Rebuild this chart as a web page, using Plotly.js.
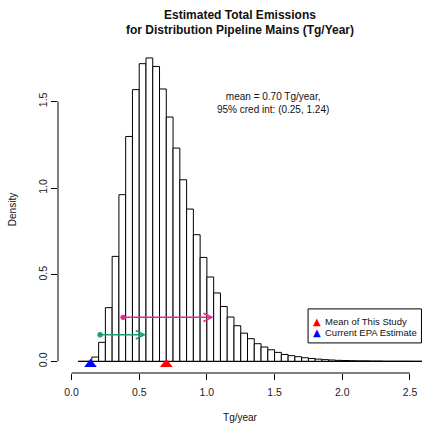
<!DOCTYPE html>
<html>
<head>
<meta charset="utf-8">
<script src="https://cdn.plot.ly/plotly-3.0.1.min.js"></script>
<style>
  html, body { margin: 0; padding: 0; background: #fff; }
  #chart { width: 422px; height: 423px; }
</style>
</head>
<body>
<div id="chart"></div>
<script>
// ---- data ----
const binStart = 0.05;
const binWidth = 0.05;
const density = [0, 0, 0.025, 0.11, 0.31, 0.606, 0.962, 1.298, 1.568, 1.718, 1.751, 1.702,
  1.572, 1.41, 1.231, 1.048, 0.879, 0.731, 0.600, 0.487, 0.395, 0.317, 0.256, 0.206,
  0.163, 0.131, 0.102, 0.083, 0.067, 0.052, 0.040, 0.033, 0.027, 0.021, 0.017, 0.013,
  0.010, 0.008, 0.006, 0.005, 0.004, 0.003, 0.003, 0.002, 0.002, 0.001, 0.001, 0.001,
  0.001, 0.0005, 0.0005, 0.0003];

const markerNames = ['Mean of This Study', 'Current EPA Estimate'];
const markerX = [0.70, 0.14];
const markerY = [-0.016, -0.016];

const arrowStartX = [0.37, 0.20];
const arrowEndX = [1.05, 0.55];
const arrowY = [0.254, 0.154];

const xTicks = [0, 0.5, 1.0, 1.5, 2.0, 2.5];
const yTicks = [0, 0.5, 1.0, 1.5];

const statText = 'mean = 0.70 Tg/year,<br>95% cred int: (0.25, 1.24)';
const statPos = [1.49, 1.49];

// ---- styles ----
const FONT = 'Liberation Sans, Arial, Helvetica, sans-serif';
const markerColors = ['#FF0000', '#0000FF'];
const arrowColors = ['#E7298A', '#1B9E77'];

const binCenters = density.map((_, i) => binStart + binWidth * (i + 0.5));
const binLeft = binStart;
const binRight = binStart + binWidth * density.length;

const traces = [
  {
    type: 'scatter', mode: 'lines',
    x: [binLeft, binRight], y: [0, 0],
    line: { color: '#000', width: 1 },
    hoverinfo: 'skip', showlegend: false
  },
  {
    type: 'bar', x: binCenters, y: density, width: binWidth,
    marker: { color: '#fff', line: { color: '#000', width: 1 } },
    showlegend: false, hoverinfo: 'x+y'
  }
];
markerNames.forEach((nm, i) => {
  traces.push({
    type: 'scatter', mode: 'markers', name: nm,
    x: [markerX[i]], y: [markerY[i]],
    marker: { symbol: 'triangle-up', size: 11, color: markerColors[i] },
    cliponaxis: false, showlegend: false
  });
});

const annotations = [];
arrowStartX.forEach((x0, i) => {
  annotations.push({
    x: arrowEndX[i], y: arrowY[i], ax: x0, ay: arrowY[i],
    xref: 'x', yref: 'y', axref: 'x', ayref: 'y',
    text: '', showarrow: true,
    arrowside: 'end+start', arrowhead: 5, startarrowhead: 6,
    arrowsize: 1.1, startarrowsize: 0.9, arrowwidth: 1.5,
    arrowcolor: arrowColors[i], standoff: 0, startstandoff: 0
  });
});
annotations.push({
  x: statPos[0], y: statPos[1], xref: 'x', yref: 'y',
  text: statText, showarrow: false, align: 'center',
  xanchor: 'center', yanchor: 'middle',
  font: { family: FONT, size: 10, color: '#111' }
});

// legend box (paper coordinates)
const legBox = { x0: 0.687, x1: 0.9985, y0: 0.092, y1: 0.196 };
const legSymX = 0.7115, legTextX = 0.727;
const legRowY = [0.158, 0.124];
markerNames.forEach((nm, i) => {
  annotations.push({
    x: legSymX, y: legRowY[i], xref: 'paper', yref: 'paper',
    text: '\u25B2', showarrow: false, xanchor: 'center', yanchor: 'middle',
    font: { family: 'DejaVu Sans, sans-serif', size: 10, color: markerColors[i] }
  });
  annotations.push({
    x: legTextX, y: legRowY[i], xref: 'paper', yref: 'paper',
    text: nm, showarrow: false, xanchor: 'left', yanchor: 'middle',
    font: { family: FONT, size: 9.5, color: '#111' }
  });
});

const shapes = [
  { type: 'line', xref: 'x', yref: 'paper', x0: xTicks[0], x1: xTicks[xTicks.length - 1], y0: 0, y1: 0,
    line: { color: '#000', width: 1 } },
  { type: 'line', xref: 'paper', yref: 'y', x0: 0, x1: 0, y0: yTicks[0], y1: yTicks[yTicks.length - 1],
    line: { color: '#000', width: 1 } },
  { type: 'rect', xref: 'paper', yref: 'paper', x0: legBox.x0, x1: legBox.x1, y0: legBox.y0, y1: legBox.y1,
    line: { color: '#000', width: 1 }, fillcolor: '#fff', layer: 'above' }
];

const layout = {
  width: 422, height: 423,
  margin: { l: 58, r: 0, t: 46, b: 50, pad: 0 },
  paper_bgcolor: '#fff', plot_bgcolor: '#fff',
  font: { family: FONT, size: 10, color: '#111' },
  title: {
    text: 'Estimated Total Emissions<br>for Distribution Pipeline Mains (Tg/Year)',
    font: { family: FONT, size: 12, weight: 'bold', color: '#111' },
    x: 0.5, xref: 'paper', xanchor: 'center',
    y: 0.956, yref: 'container', yanchor: 'top'
  },
  xaxis: {
    range: [-0.1, 2.589], showgrid: false, zeroline: false, showline: false,
    tickvals: xTicks, ticktext: xTicks.map(v => v.toFixed(1)),
    ticks: 'outside', ticklen: 6, tickwidth: 1, tickcolor: '#000',
    ticklabelstandoff: 3,
    tickfont: { family: FONT, size: 10.5, color: '#222' },
    title: { text: 'Tg/year', font: { family: FONT, size: 10, color: '#111' }, standoff: 22 },
    fixedrange: true
  },
  yaxis: {
    range: [-0.067, 1.82], showgrid: false, zeroline: false, showline: false,
    tickvals: yTicks, ticktext: yTicks.map(v => v.toFixed(1)),
    ticks: 'outside', ticklen: 6, tickwidth: 1, tickcolor: '#000', tickangle: -90,
    tickfont: { family: FONT, size: 10.5, color: '#222' },
    title: { text: 'Density', font: { family: FONT, size: 10, color: '#111' }, standoff: 18 },
    fixedrange: true
  },
  bargap: 0,
  showlegend: false,
  annotations: annotations,
  shapes: shapes
};

Plotly.newPlot('chart', traces, layout, { displayModeBar: false, staticPlot: true });
</script>
</body>
</html>
